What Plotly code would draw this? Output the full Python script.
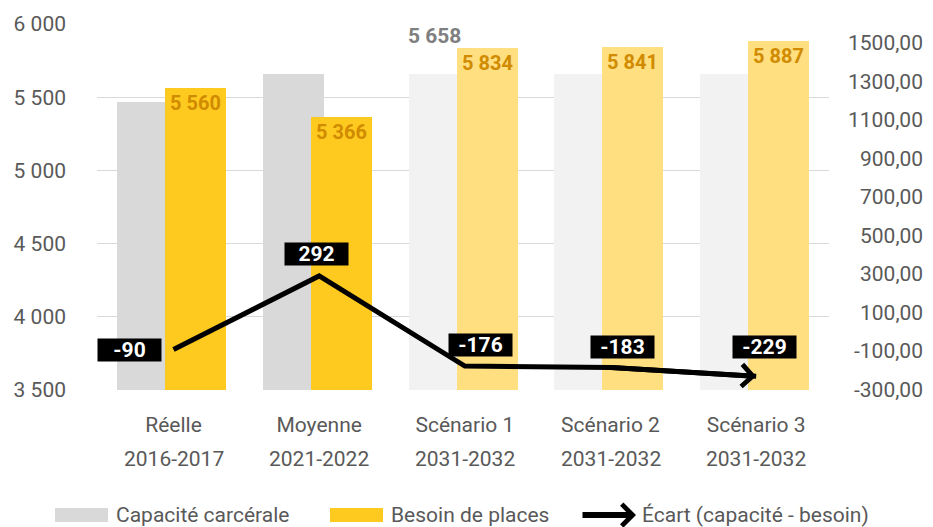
import plotly.graph_objects as go

# données du graphique
categories = ["Réelle", "Moyenne", "Scénario 1", "Scénario 2", "Scénario 3"]
periodes = ["2016-2017", "2021-2022", "2031-2032", "2031-2032", "2031-2032"]
capacite = [5470, 5658, 5658, 5658, 5658]
besoin = [5560, 5366, 5834, 5841, 5887]
ecart = [-90, 292, -176, -183, -229]
ticks_gauche = [3500, 4000, 4500, 5000, 5500, 6000]
ticks_droite = [-300, -100, 100, 300, 500, 700, 900, 1100, 1300, 1500]
noms = ["Capacité carcérale", "Besoin de places", "Écart (capacité - besoin)"]

def fr(n):
    return f"{n:,}".replace(",", " ")

# couleurs (les scénarios sont plus clairs)
gris = ["#d9d9d9", "#d9d9d9", "#f2f2f2", "#f2f2f2", "#f2f2f2"]
jaune = ["#ffca1f", "#ffca1f", "#ffdf80", "#ffdf80", "#ffdf80"]
police = "Roboto"
taille = 21
texte = "#595959"

fig = go.Figure()

fig.add_trace(go.Bar(
    x=categories, y=capacite, name=noms[0],
    marker=dict(color=gris, line=dict(width=0)),
    offset=-0.385, width=0.42,
))
fig.add_trace(go.Bar(
    x=categories, y=besoin, name=noms[1],
    marker=dict(color=jaune, line=dict(width=0)),
    offset=-0.057, width=0.42,
    text=[fr(v) for v in besoin], textposition="inside", insidetextanchor="end",
    textfont=dict(family=police, size=20, color="#d18b00", weight="bold"),
    textangle=0,
))

# écart sur l'axe secondaire
fig.add_trace(go.Scatter(
    x=categories, y=ecart, name=noms[2], yaxis="y2",
    mode="lines", line=dict(color="black", width=5),
))
# pointe de flèche sur le dernier segment
fig.add_annotation(
    x=categories[-1], y=ecart[-1], xref="x", yref="y2",
    ax=categories[-2], ay=ecart[-2], axref="x", ayref="y2",
    text="", showarrow=True, arrowhead=4, arrowsize=0.85, arrowwidth=5,
    arrowcolor="black",
)

# étiquettes de l'écart (boîtes noires)
decalages = [(-44, 0), (-3, 22), (16, 21), (12, 20), (8, 29)]
for cat, v, (dx, dy) in zip(categories, ecart, decalages):
    fig.add_annotation(
        x=cat, y=v, xref="x", yref="y2", text=f"<b>{v}</b>", showarrow=False,
        xshift=dx, yshift=dy, bgcolor="black", width=61, height=20, borderpad=1,
        font=dict(family=police, size=21, color="white"),
    )

# étiquette grise du scénario 1
fig.add_annotation(
    x=categories[2], y=capacite[2], text=f"<b>{fr(capacite[2])}</b>", showarrow=False,
    xshift=-30, yshift=38, font=dict(family=police, size=21, color="#7f7f7f"),
)

# deuxième ligne des étiquettes de catégories
for cat, p in zip(categories, periodes):
    fig.add_annotation(
        x=cat, y=0, xref="x", yref="paper", text=p, showarrow=False,
        yshift=-69, yanchor="middle", font=dict(family=police, size=taille, color=texte),
    )

# étiquettes de l'axe de droite, alignées à droite
for v in ticks_droite:
    fig.add_annotation(
        x=1, y=v, xref="paper", yref="y2", text=f"{v:.2f}".replace(".", ","),
        showarrow=False, xanchor="right", xshift=96,
        font=dict(family=police, size=taille, color=texte),
    )

# légende dessinée à la main (rectangles larges + flèche)
for nom, couleur, x0 in [(noms[0], gris[0], -42), (noms[1], jaune[0], 233)]:
    fig.add_shape(
        type="rect", xref="paper", yref="paper", xanchor=0, yanchor=0,
        xsizemode="pixel", ysizemode="pixel", x0=x0, x1=x0 + 53, y0=-132, y1=-118,
        fillcolor=couleur, line=dict(width=0),
    )
    fig.add_annotation(
        x=0, y=0, xref="paper", yref="paper", xshift=x0 + 59, yshift=-125,
        xanchor="left", yanchor="middle", text=nom, showarrow=False,
        font=dict(family=police, size=taille, color=texte),
    )
fig.add_annotation(
    x=539 / 732, y=-125 / 366, xref="paper", yref="paper", ax=-55, ay=0,
    text="", showarrow=True, arrowhead=4, arrowsize=0.7, arrowwidth=6, arrowcolor="black",
)
fig.add_annotation(
    x=0, y=0, xref="paper", yref="paper", xshift=543, yshift=-125,
    xanchor="left", yanchor="middle", text=noms[2], showarrow=False,
    font=dict(family=police, size=taille, color=texte),
)

# la page ajoute une marge de 8 px : figure réduite d'autant
fig.update_layout(
    width=925, height=519,
    margin=dict(l=89, r=104, t=16, b=137, autoexpand=False),
    plot_bgcolor="white", paper_bgcolor="white",
    barmode="overlay", bargap=0, showlegend=False,
    font=dict(family=police, size=taille, color=texte),
    xaxis=dict(
        tickmode="array", tickvals=categories, ticktext=categories,
        showgrid=False, showline=False, ticks="", ticklabelstandoff=20,
        tickfont=dict(family=police, size=taille, color=texte),
    ),
    yaxis=dict(
        range=[3500, 6000], tickvals=ticks_gauche, ticktext=[fr(v) for v in ticks_gauche],
        showgrid=True, gridcolor="#d9d9d9", gridwidth=1.2, zeroline=False,
        showline=False, ticks="", ticklabelstandoff=30,
        tickfont=dict(family=police, size=taille, color=texte),
    ),
    yaxis2=dict(
        range=[-300, 1600], overlaying="y", side="right", showgrid=False,
        zeroline=False, showticklabels=False, ticks="",
    ),
)

fig.write_html("out.html")
